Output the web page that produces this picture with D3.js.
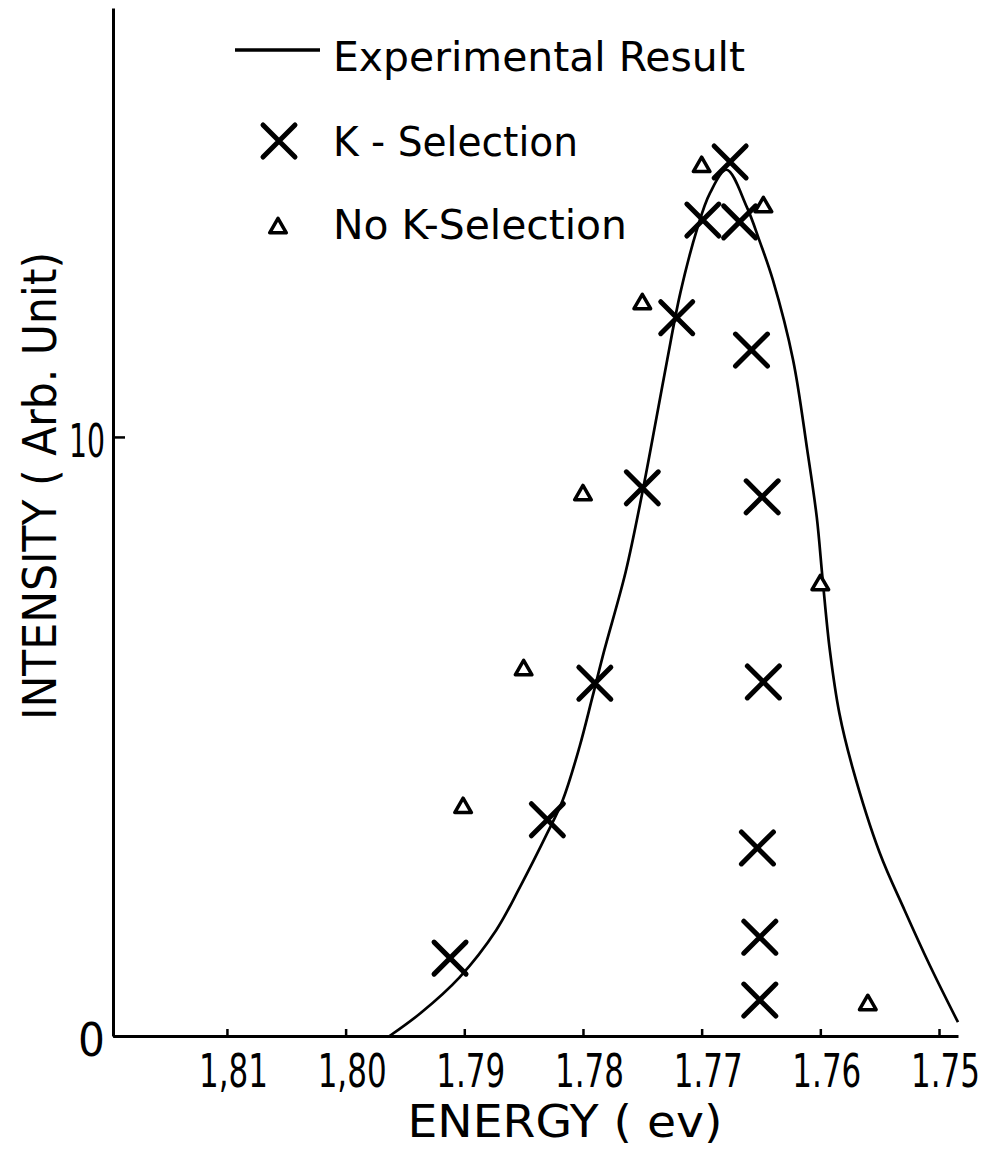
<html>
<head>
<title>Intensity vs Energy</title>
<script src="https://d3js.org/d3.v7.min.js"></script>
<style>
  body { margin: 0; background: #fff; }
  text { font-family: "DejaVu Sans", sans-serif; fill: #000; }
</style>
</head>
<body>
<div id="chart"></div>
<script type="text/javascript">
// Data *******************************************
// experimental curve (solid line)
var expEnergy    = [1.7963, 1.7937, 1.7904, 1.7873, 1.7853, 1.7830, 1.7817, 1.7803, 1.7792, 1.7782,
                    1.7764, 1.7750, 1.7738, 1.7729, 1.7718, 1.7704, 1.7693, 1.7679, 1.7662, 1.7651,
                    1.7640, 1.7623, 1.7611, 1.7603, 1.7598, 1.7592, 1.7584, 1.7573, 1.7550, 1.7529,
                    1.7508, 1.7484];
var expIntensity = [0.00, 0.38, 0.98, 1.77, 2.49, 3.39, 3.94, 4.82, 5.66, 6.44,
                    7.75, 9.07, 10.33, 11.29, 12.40, 13.46, 14.07, 14.46, 13.84, 13.26,
                    12.62, 11.29, 9.78, 8.66, 7.61, 6.44, 5.39, 4.49, 3.06, 2.10,
                    1.19, 0.23];

// K - Selection (crosses)
var kEnergy    = [1.7912, 1.7830, 1.7790, 1.7750, 1.7721, 1.7699, 1.7676, 1.7668, 1.7658, 1.7649,
                  1.7648, 1.7653, 1.7651, 1.7651];
var kIntensity = [1.30, 3.61, 5.89, 9.15, 11.99, 13.62, 14.59, 13.59, 11.45, 9.00,
                  5.91, 3.14, 1.65, 0.60];

// No K-Selection (triangles)
var noKEnergy    = [1.7901, 1.7850, 1.7800, 1.7750, 1.7700, 1.7648, 1.7600, 1.7560];
var noKIntensity = [3.81, 6.11, 9.03, 12.22, 14.51, 13.84, 7.53, 0.52];

// ticks
var energyTicks      = [1.81, 1.80, 1.79, 1.78, 1.77, 1.76, 1.75];
var energyTickLabels = ["1,81", "1,80", "1.79", "1.78", "1.77", "1.76", "1.75"];
var intensityTicks      = [0, 10];
var intensityTickLabels = ["0", "10"];

var legendLabels = ["Experimental Result", "K - Selection", "No K-Selection"];

// Layout ***********************
var W = 983, H = 1154;
var svg = d3.select("#chart").append("svg")
    .attr("width", W)
    .attr("height", H);

// axis extent in data space (axes run a bit past the outer ticks)
var x = d3.scaleLinear().domain([1.8196, 1.7484]).range([113, 958]);
var y = d3.scaleLinear().domain([0, 17.16]).range([1036, 8]);

// the hand lettering is narrower than any installed font
function squeeze(sel, factor, maxLen) {
    sel.each(function () {
        var n = this.getComputedTextLength() * factor;
        if (maxLen) n = Math.min(n, maxLen);
        d3.select(this).attr("textLength", n).attr("lengthAdjust", "spacingAndGlyphs");
    });
}

// X axis
var xAxis = svg.append("g")
    .attr("transform", "translate(0," + y(0) + ")")
    .call(d3.axisBottom(x)
        .tickValues(energyTicks)
        .tickSizeInner(-7)
        .tickSizeOuter(0)
        .tickFormat(function (d, i) { return energyTickLabels[i]; }));
xAxis.select(".domain").attr("stroke", "#000").attr("stroke-width", 3);
xAxis.selectAll(".tick line").attr("stroke", "#000").attr("stroke-width", 2.5);
// tall, narrow digits: small font stretched vertically
xAxis.selectAll(".tick text")
    .attr("transform", "scale(1,1.5)")
    .attr("y", 51 / 1.5).attr("dy", null).attr("dx", 6)
    .style("font-size", "31px").style("font-family", "DejaVu Sans").attr("fill", "#000");

// Y axis
var yAxis = svg.append("g")
    .attr("transform", "translate(" + x(1.8196) + ",0)")
    .call(d3.axisLeft(y)
        .tickValues(intensityTicks)
        .tickSizeInner(-12)
        .tickSizeOuter(0)
        .tickPadding(8)
        .tickFormat(function (d, i) { return intensityTickLabels[i]; }));
yAxis.select(".domain").attr("stroke", "#000").attr("stroke-width", 3);
yAxis.selectAll(".tick line").attr("stroke", "#000").attr("stroke-width", 2.5);
yAxis.selectAll(".tick text")
    .attr("dy", "0.42em")
    .style("font-size", "46px").style("font-family", "DejaVu Sans").attr("fill", "#000")
    .call(squeeze, 0.92, 36);

// Axis titles
svg.append("text")
    .attr("x", 565).attr("y", 1137)
    .attr("text-anchor", "middle")
    .style("font-size", "44px")
    .attr("textLength", 315).attr("lengthAdjust", "spacingAndGlyphs")
    .text("ENERGY ( ev)");

svg.append("text")
    .attr("transform", "translate(56,486) rotate(-90)")
    .attr("text-anchor", "middle")
    .style("font-size", "47px")
    .attr("textLength", 468).attr("lengthAdjust", "spacingAndGlyphs")
    .text("INTENSITY ( Arb. Unit)");

// Experimental curve
var line = d3.line()
    .x(function (d) { return x(d[0]); })
    .y(function (d) { return y(d[1]); })
    .curve(d3.curveCatmullRom.alpha(0.5));

svg.append("path")
    .datum(d3.zip(expEnergy, expIntensity))
    .attr("fill", "none")
    .attr("stroke", "#000")
    .attr("stroke-width", 2.7)
    .attr("stroke-linejoin", "round")
    .attr("d", line);

// K - Selection crosses
var cross = 16;
function drawCross(g, cx, cy) {
    g.append("path")
        .attr("d", "M" + (cx - cross) + "," + (cy - cross) + "L" + (cx + cross) + "," + (cy + cross) +
                   "M" + (cx + cross) + "," + (cy - cross) + "L" + (cx - cross) + "," + (cy + cross))
        .attr("stroke", "#000")
        .attr("stroke-width", 5)
        .attr("stroke-linecap", "round")
        .attr("fill", "none");
}
var crosses = svg.append("g");
kEnergy.forEach(function (e, i) {
    drawCross(crosses, x(e), y(kIntensity[i]));
});

// No K-Selection triangles
var tri = d3.symbol().type(d3.symbolTriangle).size(120);
svg.append("g").selectAll("path")
    .data(d3.zip(noKEnergy, noKIntensity))
    .enter()
    .append("path")
    .attr("d", tri)
    .attr("transform", function (d) { return "translate(" + x(d[0]) + "," + y(d[1]) + ")"; })
    .attr("fill", "#fff")
    .attr("stroke", "#000")
    .attr("stroke-width", 3.5)
    .attr("stroke-linejoin", "round");

// Legend
var legend = svg.append("g");
legend.append("line")
    .attr("x1", 235).attr("x2", 320)
    .attr("y1", 50).attr("y2", 50)
    .attr("stroke", "#000").attr("stroke-width", 3.5);
drawCross(legend, 279, 141);
legend.append("path")
    .attr("d", tri)
    .attr("transform", "translate(278,228)")
    .attr("fill", "#fff").attr("stroke", "#000").attr("stroke-width", 3.5)
    .attr("stroke-linejoin", "round");

var legendY = [71, 156, 239];
var legendW = [412, 245, 294];
legend.selectAll("text")
    .data(legendLabels)
    .enter()
    .append("text")
    .attr("x", 333)
    .attr("y", function (d, i) { return legendY[i]; })
    .style("font-size", "40px")
    .attr("textLength", function (d, i) { return legendW[i]; })
    .attr("lengthAdjust", "spacingAndGlyphs")
    .text(function (d) { return d; });
</script>
</body>
</html>
